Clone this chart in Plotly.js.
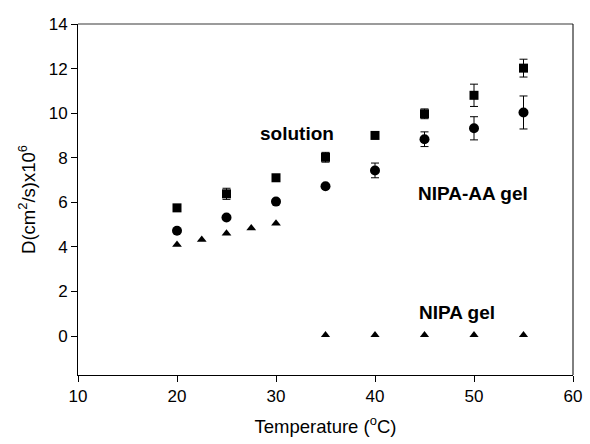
<!DOCTYPE html>
<html>
<head>
<meta charset="utf-8">
<script src="https://cdn.plot.ly/plotly-3.0.1.min.js"></script>
<style>html,body{margin:0;padding:0;background:#fff;}#chart{width:590px;height:444px;}</style>
</head>
<body>
<div id="chart"></div>
<script>
const solT = [20, 25, 30, 35, 40, 45, 50, 55];
const solD = [5.75, 6.38, 7.1, 8.02, 9.0, 9.97, 10.8, 12.02];
const solErr = [0, 0.25, 0, 0.22, 0, 0.22, 0.5, 0.4];

const aaT = [20, 25, 30, 35, 40, 45, 50, 55];
const aaD = [4.72, 5.32, 6.03, 6.72, 7.43, 8.83, 9.32, 10.03];
const aaErr = [0, 0, 0, 0, 0.33, 0.33, 0.52, 0.74];

const nipaLowT = [20, 22.5, 25, 27.5, 30];
const nipaLowD = [4.1, 4.32, 4.6, 4.84, 5.05];

const nipaHighT = [35, 40, 45, 50, 55];
const nipaHighD = [0.05, 0.05, 0.05, 0.05, 0.05];

const labels = [
  {text: "solution", x: 32.1, y: 9.1},
  {text: "NIPA-AA gel", x: 49.9, y: 6.4},
  {text: "NIPA gel", x: 48.3, y: 1.05}
];

const err = (a) => ({type: 'data', array: a, visible: true, color: '#000', thickness: 1, width: 4});

const traces = [
  {x: solT, y: solD, type: 'scatter', mode: 'markers', marker: {symbol: 'square', size: 9, color: '#000'}, error_y: err(solErr)},
  {x: aaT, y: aaD, type: 'scatter', mode: 'markers', marker: {symbol: 'circle', size: 10, color: '#000'}, error_y: err(aaErr)},
  {x: nipaLowT, y: nipaLowD, type: 'scatter', mode: 'markers', marker: {symbol: 'triangle-up', size: 8.5, color: '#000'}},
  {x: nipaHighT, y: nipaHighD, type: 'scatter', mode: 'markers', marker: {symbol: 'triangle-up', size: 8, color: '#000'}}
];

const font = {family: 'Liberation Sans, Arial, sans-serif', color: '#000'};

const layout = {
  width: 590, height: 444,
  margin: {l: 78, r: 17, t: 24, b: 69},
  paper_bgcolor: '#fff', plot_bgcolor: '#fff',
  showlegend: false,
  font: Object.assign({size: 16}, font),
  xaxis: {
    range: [10, 60], tickvals: [10, 20, 30, 40, 50, 60],
    showgrid: false, zeroline: false,
    showline: true, linecolor: '#000', linewidth: 1, mirror: false,
    ticks: 'outside', ticklen: 6, tickcolor: '#000',
    tickfont: Object.assign({size: 17}, font),
    automargin: false,
    title: {text: 'Temperature (<sup>o</sup>C)', font: Object.assign({size: 18.5}, font), standoff: 14}
  },
  yaxis: {
    range: [-1.75, 14], tickvals: [0, 2, 4, 6, 8, 10, 12, 14],
    showgrid: false, zeroline: false,
    showline: true, linecolor: '#000', linewidth: 1, mirror: false,
    ticks: 'outside', ticklen: 6, tickcolor: '#000',
    tickfont: Object.assign({size: 17}, font),
    automargin: false,
    title: {text: 'D(cm<sup>2</sup>/s)x10<sup>6</sup>', font: Object.assign({size: 18.5}, font), standoff: 8}
  },
  shapes: [
    {type: 'line', xref: 'paper', yref: 'paper', x0: 0, x1: 1, y0: 1, y1: 1, line: {color: '#7a7a7a', width: 1.5}},
    {type: 'line', xref: 'paper', yref: 'paper', x0: 1, x1: 1, y0: 0, y1: 1, line: {color: '#000', width: 1}}
  ],
  annotations: labels.map(l => ({
    text: '<b>' + l.text + '</b>', x: l.x, y: l.y, xref: 'x', yref: 'y',
    showarrow: false, font: Object.assign({size: 19}, font)
  }))
};

Plotly.newPlot('chart', traces, layout, {displayModeBar: false, staticPlot: true});
</script>
</body>
</html>
